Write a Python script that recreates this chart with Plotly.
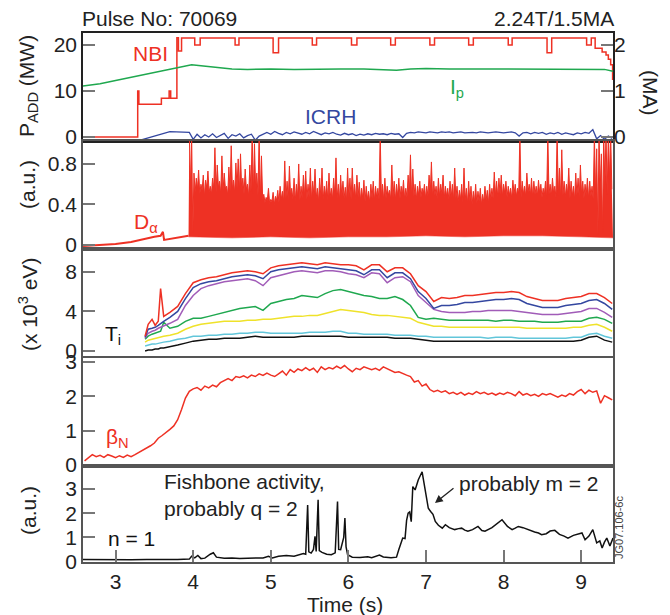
import plotly.graph_objects as go

# ---------------- data ----------------
# Panel 1: NBI power (MW, step signal), ICRH power (MW), plasma current Ip (MA)
NBI_T = [2.58, 3.285, 3.30, 3.59, 3.69, 3.71, 3.79, 3.81, 3.85, 4.02, 4.09, 4.54, 4.59,
         5.03, 5.10, 5.535, 5.59, 6.04, 6.11, 6.545, 6.605, 7.05, 7.11, 7.55, 7.61,
         8.06, 8.11, 8.56, 8.62, 9.07, 9.13, 9.18, 9.27, 9.32, 9.35, 9.38, 9.405]
NBI_MW = [0, 10.0, 7.1, 8.4, 10.0, 8.4, 21.6, 18.7, 21.5, 20.0, 21.5, 20.0, 21.5,
          18.3, 21.5, 20.0, 21.5, 20.0, 21.5, 20.0, 21.5, 20.0, 21.5, 20.0, 21.5,
          20.0, 21.5, 18.3, 21.5, 20.0, 21.5, 19.3, 18.5, 17.8, 16.9, 15.7, 12.4]

IP_T = [2.58, 2.8, 3.0, 3.2, 3.4, 3.6, 3.8, 3.98, 4.1, 4.3, 4.5, 4.7, 5.0, 5.3, 5.6,
        5.9, 6.2, 6.5, 6.62, 6.8, 7.0, 7.3, 7.6, 8.0, 8.4, 8.8, 9.1, 9.3, 9.41]
IP_MA = [1.11, 1.16, 1.23, 1.30, 1.37, 1.44, 1.51, 1.57, 1.55, 1.51, 1.48, 1.47, 1.48,
         1.47, 1.48, 1.48, 1.48, 1.47, 1.45, 1.48, 1.49, 1.48, 1.48, 1.48, 1.48, 1.48,
         1.48, 1.47, 1.43]

ICRH_PRE_T = [2.58, 3.285, 3.70, 3.93]
ICRH_PRE = [-0.85, -0.85, 1.15, 1.15]
ICRH_T0, ICRH_DT = 3.95, 0.05
ICRH_MW = [1.0, -0.5, 0.6, -0.2, 0.5, 0.0, 0.7, -0.1, 0.4, 0.8,
           -0.3, 0.5, 0.2, 0.7, -0.2, 0.3, 0.6, -0.7, 0.2, 0.6,
           1.0, 0.6, 1.2, 0.8, 0.5, 1.0, 0.7, 1.1, 0.9, 0.6,
           1.0, 0.7, 1.2, 0.8, 0.5, 0.9, 0.7, 1.0, 0.6, 0.4,
           0.8, 0.5, 0.7, 0.3, 0.6, 0.4, 0.7, 0.5, 0.8, 0.6,
           0.7, 0.5, 0.8, 0.6, 0.7, -0.1, 0.8, 1.0, 0.9, 1.1,
           1.0, 0.9, 1.1, 1.0, 0.9, 1.1, 1.0, 1.1, 0.9, 1.0,
           1.1, 0.9, 1.0, 1.0, 0.9, 1.1, 1.0, 0.9, 1.0, 1.1,
           1.0, 0.9, 1.0, 1.1, 0.9, 0.2, 0.9, 1.0, 0.7, 1.0,
           0.8, 1.0, 0.6, 0.9, 0.7, 1.0, 0.6, 0.9, 0.7, 0.5,
           0.9, 0.7, 1.0, 0.8, 1.6, -0.4, 0.3, -0.5, 0.2, -0.3]

# Panel 2: D-alpha (a.u.)
DA_PRE_T = [2.58, 2.8, 3.0, 3.2, 3.31, 3.4, 3.5, 3.58, 3.61, 3.625, 3.7, 3.8, 3.9, 3.94]
DA_PRE = [-0.01, 0.0, 0.01, 0.03, 0.05, 0.06, 0.08, 0.09, 0.13, 0.05, 0.06, 0.07, 0.08, 0.09]
DA_T0, DA_DT = 3.95, 0.03
DA_PEAK = [1.1, 1.1, 0.71, 0.66, 0.74, 0.60, 0.69, 0.64, 0.73, 0.58,
           0.66, 0.96, 0.79, 0.63, 0.88, 0.71, 0.58, 0.77, 0.98, 0.64,
           0.81, 0.85, 0.90, 0.66, 0.75, 0.60, 0.79, 1.1, 1.0, 0.71,
           1.1, 0.88, 0.50, 0.47, 0.56, 0.45, 0.52, 0.48, 0.54, 0.58,
           0.53, 0.83, 0.63, 0.78, 0.56, 0.66, 0.60, 0.80, 0.58, 0.69,
           0.73, 0.60, 0.76, 0.63, 0.75, 0.56, 0.66, 0.76, 0.58, 0.63,
           0.71, 0.56, 0.66, 0.86, 0.60, 0.69, 0.63, 0.57, 0.76, 0.66,
           0.76, 0.60, 0.69, 0.62, 0.56, 0.64, 0.58, 0.53, 0.60, 0.63,
           0.58, 0.56, 1.1, 0.60, 0.66, 0.58, 0.54, 0.79, 0.63, 0.60,
           0.66, 0.58, 0.64, 0.56, 0.69, 0.89, 0.75, 0.60, 0.58, 0.63,
           0.56, 0.60, 0.58, 0.69, 0.82, 0.63, 0.58, 0.66, 0.60, 0.69,
           0.58, 0.56, 0.63, 0.60, 0.76, 0.58, 0.54, 0.60, 0.76, 0.56,
           0.63, 0.58, 0.53, 0.60, 0.53, 0.56, 0.50, 0.58, 0.54, 0.60,
           0.56, 0.72, 0.63, 0.66, 0.69, 0.60, 0.63, 0.58, 0.56, 0.64,
           0.60, 0.56, 1.1, 0.63, 0.58, 0.71, 0.60, 0.66, 0.63, 0.58,
           0.64, 0.60, 0.56, 0.63, 1.1, 0.60, 0.66, 0.58, 1.1, 0.76,
           0.94, 0.63, 0.60, 0.76, 0.63, 0.58, 0.71, 0.66, 0.79, 0.63,
           0.60, 0.66, 0.63, 0.58, 1.1, 0.95, 1.1, 0.90, 1.1, 1.1,
           1.1, 1.1]
DA_DIP = [0.56, 0.12, 0.52, 0.55, 0.50, 0.54, 0.48, 0.56, 0.52, 0.50,
          0.55, 0.52, 0.57, 0.50, 0.54, 0.56, 0.49, 0.53, 0.55, 0.51,
          0.56, 0.52, 0.54, 0.50, 0.55, 0.48, 0.53, 0.51, 0.55, 0.49,
          0.44, 0.46, 0.42, 0.44, 0.41, 0.43, 0.40, 0.44, 0.42, 0.45,
          0.43, 0.46, 0.44, 0.48, 0.45, 0.43, 0.47, 0.44, 0.46, 0.48,
          0.45, 0.47, 0.44, 0.49, 0.46, 0.43, 0.47, 0.45, 0.48, 0.44,
          0.47, 0.45, 0.49, 0.46, 0.44, 0.48, 0.46, 0.43, 0.47, 0.45,
          0.48, 0.45, 0.47, 0.44, 0.46, 0.43, 0.45, 0.42, 0.46, 0.44,
          0.47, 0.45, 0.48, 0.44, 0.46, 0.49, 0.45, 0.47, 0.44, 0.48,
          0.46, 0.49, 0.45, 0.47, 0.50, 0.46, 0.48, 0.45, 0.49, 0.47,
          0.50, 0.46, 0.48, 0.51, 0.47, 0.49, 0.45, 0.48, 0.50, 0.46,
          0.48, 0.45, 0.47, 0.44, 0.46, 0.43, 0.45, 0.42, 0.44, 0.41,
          0.43, 0.40, 0.42, 0.41, 0.43, 0.40, 0.42, 0.44, 0.41, 0.45,
          0.46, 0.49, 0.47, 0.50, 0.48, 0.51, 0.47, 0.49, 0.46, 0.50,
          0.48, 0.51, 0.47, 0.50, 0.48, 0.52, 0.49, 0.47, 0.50, 0.48,
          0.51, 0.47, 0.49, 0.46, 0.50, 0.48, 0.51, 0.47, 0.49, 0.46,
          0.49, 0.47, 0.50, 0.46, 0.48, 0.45, 0.49, 0.47, 0.50, 0.46,
          0.49, 0.46, 0.48, 0.45, 0.50, 0.10, 0.55, 0.12, 0.60, 0.50,
          0.65, 0.55]
DA_LOW_T = [3.94, 4.5, 5.0, 5.5, 6.0, 6.5, 7.0, 7.5, 8.0, 8.5, 9.0, 9.41]
DA_LOW = [0.08, 0.07, 0.08, 0.07, 0.08, 0.08, 0.09, 0.08, 0.09, 0.09, 0.08, 0.07]

# Panel 3: ion temperature profiles (x10^3 eV), 7 radii
TI_T = [3.38, 3.42, 3.47, 3.51, 3.55, 3.58, 3.62] + [round(3.7 + 0.1 * i, 2) for i in range(58)]
TI_RED = [1.5, 2.7, 3.2, 2.6, 3.0, 6.3, 3.5,
          3.9, 4.5, 5.8, 6.9, 7.2, 7.4, 7.5, 7.7, 7.9, 8.0,
          8.1, 8.0, 7.8, 8.4, 8.6, 8.7, 8.8, 8.9, 8.8, 8.7,
          8.9, 8.8, 8.7, 8.7, 8.6, 8.2, 8.7, 8.7, 8.0, 8.4,
          8.4, 7.8, 6.6, 6.0, 5.0, 5.4, 5.3, 5.4, 5.6, 5.6,
          5.7, 5.8, 5.9, 5.9, 6.0, 5.9, 5.5, 5.3, 5.1, 5.1,
          5.1, 5.3, 5.4, 5.5, 5.8, 5.8, 5.4, 4.8]
TI_BLUE = [1.4, 2.2, 2.3, 2.4, 2.6, 2.8, 3.0,
           3.4, 4.0, 5.3, 6.4, 6.8, 7.0, 7.1, 7.3, 7.5, 7.6,
           7.7, 7.6, 7.3, 8.0, 8.2, 8.3, 8.4, 8.5, 8.4, 8.3,
           8.5, 8.4, 8.3, 8.2, 8.1, 7.7, 8.2, 8.2, 7.4, 7.9,
           7.9, 7.3, 6.0, 5.3, 4.3, 4.6, 4.6, 4.7, 4.9, 4.9,
           5.0, 5.1, 5.2, 5.2, 5.3, 5.2, 4.8, 4.6, 4.4, 4.4,
           4.4, 4.6, 4.7, 4.8, 5.1, 5.2, 4.8, 4.2]
TI_PURPLE = [1.3, 1.8, 2.0, 2.1, 2.3, 2.4, 2.5,
             2.8, 3.2, 4.6, 5.6, 6.3, 6.6, 6.8, 7.0, 7.1, 7.2,
             7.3, 7.1, 6.6, 7.4, 7.6, 7.8, 8.0, 8.1, 8.0, 7.9,
             8.1, 8.1, 8.0, 7.8, 7.7, 7.4, 7.9, 7.8, 6.9, 7.4,
             7.5, 7.0, 5.6, 4.9, 4.2, 4.0, 3.9, 3.9, 3.9, 4.0,
             4.0, 4.1, 4.1, 4.1, 4.1, 4.0, 3.9, 3.8, 3.7, 3.7,
             3.7, 3.8, 3.9, 4.0, 4.3, 4.3, 3.9, 3.4]
TI_GREEN = [1.2, 1.5, 1.7, 1.8, 1.9, 2.0, 2.9,
            2.3, 2.5, 3.0, 3.3, 3.3, 3.5, 3.7, 3.9, 4.1, 4.3,
            4.4, 4.5, 4.1, 4.8, 5.0, 5.2, 5.3, 5.6, 5.5, 5.4,
            5.8, 6.1, 6.2, 6.0, 5.8, 5.6, 5.5, 5.3, 5.3, 5.5,
            5.2, 4.6, 3.4, 3.2, 3.3, 3.2, 3.1, 3.1, 3.1, 3.1,
            3.1, 3.1, 3.0, 3.1, 3.1, 3.0, 3.0, 3.0, 2.9, 2.9,
            2.9, 3.0, 3.0, 3.0, 3.3, 3.4, 3.2, 2.8]
TI_YELLOW = [0.9, 1.1, 1.2, 1.3, 1.4, 1.4, 1.5,
             1.6, 1.8, 2.2, 2.5, 2.7, 2.8, 2.9, 3.0, 3.0, 3.0,
             3.1, 3.1, 3.2, 3.2, 3.3, 3.4, 3.5, 3.5, 3.6, 3.6,
             3.8, 4.0, 4.2, 4.1, 4.0, 3.9, 3.7, 3.6, 3.6, 3.5,
             3.4, 3.3, 2.9, 2.7, 2.5, 2.5, 2.4, 2.4, 2.4, 2.4,
             2.4, 2.4, 2.4, 2.4, 2.4, 2.4, 2.3, 2.3, 2.3, 2.3,
             2.3, 2.3, 2.4, 2.4, 2.6, 2.7, 2.4, 2.0]
TI_CYAN = [0.5, 0.6, 0.7, 0.7, 0.8, 0.8, 0.9,
           1.0, 1.2, 1.3, 1.5, 1.5, 1.6, 1.6, 1.7, 1.7, 1.8,
           1.8, 1.9, 1.9, 1.8, 1.8, 1.8, 1.8, 1.8, 1.9, 1.9,
           1.9, 2.0, 2.0, 1.8, 1.8, 1.7, 1.7, 1.7, 1.7, 1.6,
           1.6, 1.6, 1.5, 1.5, 1.4, 1.4, 1.4, 1.4, 1.4, 1.4,
           1.4, 1.3, 1.4, 1.4, 1.4, 1.3, 1.3, 1.3, 1.3, 1.3,
           1.3, 1.3, 1.4, 1.4, 1.7, 1.8, 1.5, 1.3]
TI_BLACK = [0.0, 0.1, 0.1, 0.2, 0.2, 0.3, 0.3,
            0.4, 0.6, 0.8, 1.0, 1.1, 1.2, 1.2, 1.3, 1.3, 1.3,
            1.4, 1.5, 1.4, 1.4, 1.4, 1.4, 1.4, 1.5, 1.5, 1.5,
            1.5, 1.5, 1.5, 1.4, 1.4, 1.4, 1.4, 1.4, 1.4, 1.3,
            1.3, 1.3, 1.2, 1.1, 1.0, 1.0, 1.0, 1.0, 1.0, 1.0,
            1.0, 1.0, 1.0, 1.0, 1.0, 1.0, 1.0, 1.0, 1.0, 1.0,
            1.0, 1.0, 1.0, 1.1, 1.4, 1.5, 1.1, 0.9]

# Panel 4: normalised beta
BETA_T0, BETA_DT = 2.60, 0.05
BETA_N = [0.12, 0.22, 0.30, 0.24, 0.28, 0.22, 0.30, 0.26, 0.21, 0.27,
          0.22, 0.29, 0.24, 0.30, 0.36, 0.42, 0.50, 0.56, 0.64, 0.78,
          0.86, 0.94, 1.04, 1.14, 1.32, 1.62, 1.95, 2.15, 2.22, 2.26,
          2.18, 2.30, 2.25, 2.33, 2.28, 2.40, 2.45, 2.52, 2.46, 2.58,
          2.55, 2.60, 2.54, 2.62, 2.58, 2.66, 2.61, 2.68, 2.62, 2.58,
          2.66, 2.74, 2.62, 2.78, 2.70, 2.80, 2.75, 2.84, 2.76, 2.82,
          2.70, 2.86, 2.78, 2.84, 2.80, 2.88, 2.82, 2.90, 2.80, 2.72,
          2.82, 2.78, 2.86, 2.82, 2.78, 2.82, 2.76, 2.86, 2.80, 2.76,
          2.70, 2.72, 2.66, 2.62, 2.58, 2.42, 2.46, 2.30, 2.36, 2.20,
          2.14, 2.18, 2.12, 2.16, 2.08, 2.12, 2.06, 2.12, 2.04, 2.10,
          2.06, 2.14, 2.08, 2.12, 2.06, 2.10, 2.04, 2.10, 2.06, 2.12,
          2.08, 2.02, 2.14, 2.04, 2.08, 2.02, 2.06, 2.00, 2.08, 2.04,
          2.08, 2.02, 1.98, 2.04, 2.00, 2.08, 2.04, 2.14, 2.20, 2.08,
          2.18, 2.12, 2.16, 1.80, 2.02, 1.96, 1.90]

# Panel 5: n = 1 MHD amplitude (a.u.)
N1_T = [2.58, 2.8, 3.0, 3.2, 3.4, 3.6, 3.8, 3.95, 3.98, 4.02, 4.06, 4.10, 4.15, 4.22, 4.26,
        4.30, 4.4, 4.5, 4.6, 4.7, 4.8, 4.9, 4.97, 5.02, 5.1, 5.2, 5.3, 5.38, 5.42, 5.45,
        5.46, 5.475, 5.49, 5.52, 5.55, 5.57, 5.585, 5.60, 5.61, 5.625, 5.66, 5.72, 5.78,
        5.83, 5.85, 5.86, 5.875, 5.9, 5.94, 5.955, 5.97, 5.99, 6.05, 6.15, 6.25, 6.3, 6.4,
        6.45, 6.55, 6.62, 6.65, 6.67, 6.70, 6.73, 6.75, 6.77, 6.79, 6.81, 6.83, 6.86, 6.90,
        6.95, 6.99, 7.03, 7.06, 7.09, 7.12, 7.16, 7.21, 7.25, 7.30, 7.37, 7.42, 7.46, 7.50,
        7.54, 7.60, 7.67, 7.72, 7.76, 7.85, 7.92, 7.98, 8.05, 8.11, 8.15, 8.19, 8.25, 8.31,
        8.40, 8.45, 8.49, 8.55, 8.60, 8.66, 8.72, 8.78, 8.83, 8.90, 8.96, 9.01, 9.05, 9.10,
        9.15, 9.18, 9.20, 9.24, 9.27, 9.30, 9.33, 9.37, 9.41]
N1 = [0.08, 0.07, 0.09, 0.07, 0.08, 0.07, 0.08, 0.10, 0.22, 0.15, 0.25, 0.12, 0.14, 0.30, 0.36,
      0.18, 0.14, 0.15, 0.12, 0.14, 0.13, 0.15, 0.22, 0.15, 0.22, 0.25, 0.22, 0.28, 0.33, 0.30,
      1.2, 2.34, 0.40, 0.35, 0.50, 1.04, 0.42, 1.5, 2.55, 0.45, 0.38, 0.30, 0.28,
      0.36, 1.5, 2.48, 0.50, 0.49, 1.0, 1.8, 0.60, 0.28, 0.18, 0.17, 0.20, 0.16, 0.27,
      0.19, 0.16, 0.18, 0.50, 0.70, 0.97, 0.95, 1.7, 2.0, 2.05, 1.65, 3.1, 2.96, 3.37,
      3.71, 3.03, 2.2, 2.07, 1.95, 1.66, 1.50, 1.38, 1.52, 1.40, 1.32, 1.36, 1.38, 1.30,
      1.25, 1.32, 1.45, 1.28, 1.25, 1.40, 1.58, 1.73, 1.45, 1.32, 1.38, 1.45, 1.40, 1.32,
      1.22, 1.18, 1.11, 1.15, 1.26, 1.29, 1.12, 1.05, 0.97, 1.08, 1.12, 1.18, 0.90, 1.05,
      1.32, 0.95, 0.77, 0.85, 0.56, 0.80, 0.97, 0.64, 0.97]

# ---------------- styling ----------------
RED = '#EE3124'
GREEN = '#1FA84F'
BLUE = '#3447A0'
PURPLE = '#A15CB8'
YELLOW = '#EFE22A'
CYAN = '#62C6DA'
BLACK = '#111111'
FONT = 'Liberation Sans, Arial, Helvetica, sans-serif'
FS = 21
XR = [2.58, 9.41]

fig = go.Figure()

def line(x, y, color, xa, ya, width=1.5, shape='linear', **kw):
    fig.add_trace(go.Scatter(x=x, y=y, mode='lines', xaxis=xa, yaxis=ya,
                             line=dict(color=color, width=width, shape=shape),
                             showlegend=False, hoverinfo='skip', **kw))

# panel 1
icrh_t = ICRH_PRE_T + [round(ICRH_T0 + ICRH_DT * i, 3) for i in range(len(ICRH_MW))]
line(icrh_t, ICRH_PRE + ICRH_MW, BLUE, 'x', 'y', width=1.3)
line(IP_T, IP_MA, GREEN, 'x', 'y6', width=1.5)
line(NBI_T, NBI_MW, RED, 'x', 'y', width=1.5, shape='hv')

# panel 2
line(DA_PRE_T, DA_PRE, RED, 'x2', 'y2', width=2)
line(DA_LOW_T, DA_LOW, RED, 'x2', 'y2', width=0.5)
da_x, da_y = [], []
for i, (p, d) in enumerate(zip(DA_PEAK, DA_DIP)):
    t = DA_T0 + DA_DT * i
    da_x += [t, t + DA_DT / 2]
    da_y += [p, d]
line(da_x, da_y, RED, 'x2', 'y2', width=1.0, fill='tonexty', fillcolor=RED)

# panel 3
for vals, col in [(TI_BLACK, BLACK), (TI_CYAN, CYAN), (TI_YELLOW, YELLOW), (TI_GREEN, GREEN),
                  (TI_PURPLE, PURPLE), (TI_BLUE, BLUE), (TI_RED, RED)]:
    line(TI_T, vals, col, 'x3', 'y3', width=1.5)

# panel 4
beta_t = [round(BETA_T0 + BETA_DT * i, 3) for i in range(len(BETA_N))]
line(beta_t, BETA_N, RED, 'x4', 'y4', width=1.5)

# panel 5
line(N1_T, N1, BLACK, 'x5', 'y5', width=1.5)

# ---------------- axes ----------------
TICKF = dict(family=FONT, size=FS, color='#222')
FRAME = '#555555'

def xax(anchor, bottom=False, color=FRAME):
    d = dict(range=XR, anchor=anchor, domain=[0, 1], showgrid=False, zeroline=False,
             showline=True, mirror=True, linecolor=color, linewidth=1.5)
    if bottom:
        d.update(ticks='inside', ticklen=12, tickwidth=1.5, tickcolor='#777',
                 tickvals=[3, 4, 5, 6, 7, 8, 9], tickfont=TICKF)
    else:
        d.update(ticks='', showticklabels=False)
    return d

def yax(anchor, dom, rng, tv, tt=None, color=FRAME):
    d = dict(anchor=anchor, domain=dom, range=rng, tickvals=tv, showgrid=False,
             zeroline=False, showline=True, mirror=True, linecolor=color, linewidth=1.5,
             ticks='inside', ticklen=12, tickwidth=1.5, tickcolor='#777', tickfont=TICKF)
    if tt:
        d['ticktext'] = tt
    return d

H = 529.0
def dom(top_px, bot_px):
    return [(562 - bot_px) / H, (562 - top_px) / H]

fig.update_layout(
    width=670, height=615, autosize=False,
    margin=dict(l=83, r=57, t=33, b=53),
    paper_bgcolor='white', plot_bgcolor='white',
    font=dict(family=FONT, size=FS, color='#222'),
    showlegend=False,
    xaxis=xax('y', color='#222'),
    xaxis2=xax('y2'),
    xaxis3=xax('y3'),
    xaxis4=xax('y4'),
    xaxis5=xax('y5', bottom=True),
    yaxis=yax('x', dom(33, 141), [-0.87, 22.61], [0, 10, 20], color='#222'),
    yaxis6=dict(overlaying='y', side='right', anchor='x', range=[-0.087, 2.261],
                tickvals=[0, 1, 2], showgrid=False, zeroline=False, showline=False,
                ticks='inside', ticklen=12, tickwidth=1.5, tickcolor='#777', tickfont=TICKF),
    yaxis2=yax('x2', dom(141, 249), [-0.04, 1.027], [0, 0.4, 0.8], ['0', '0.4', '0.8']),
    yaxis3=yax('x3', dom(249, 356), [-0.5, 10.3], [0, 4, 8]),
    yaxis4=yax('x4', dom(358, 466), [-0.03, 3.12], [0, 1, 2, 3]),
    yaxis5=yax('x5', dom(466, 562), [-0.02, 3.95], [0, 1, 2, 3]),
)

# ---------------- text ----------------
def px(xp):
    return (xp - 83) / 530.0

def py(yp):
    return (562 - yp) / H

def note(text, x, y, color='#222', size=FS, xanchor='center', angle=0, align='center'):
    fig.add_annotation(text=text, x=px(x), y=py(y), xref='paper', yref='paper',
                       showarrow=False, xanchor=xanchor, yanchor='middle',
                       textangle=angle, align=align,
                       font=dict(family=FONT, size=size, color=color))

note('Pulse No: 70069', 80, 19, xanchor='left')
note('2.24T/1.5MA', 616, 19, xanchor='right')
note('P<sub>ADD</sub> (MW)', 28, 86, angle=-90)
note('(MA)', 650, 93, angle=90)
note('(a.u.)', 28, 185, angle=-90)
note('(x 10<sup>3</sup> eV)', 28, 305, angle=-90)
note('(a.u.)', 28, 511, angle=-90)
note('Time (s)', 345, 604)
note('NBI', 150, 53, color=RED)
note('I<sub>p</sub>', 457, 88, color=GREEN)
note('ICRH', 330, 117, color=BLUE)
note('D<sub>α</sub>', 146, 223, color=RED)
note('T<sub>i</sub>', 113, 335, color=BLACK)
note('β<sub>N</sub>', 117, 438, color=RED)
note('n = 1', 131, 538, color=BLACK)
note('Fishbone activity,<br>probably q = 2', 162, 495, xanchor='left', align='left')
note('probably m = 2', 457, 483, xanchor='left')
note('JG07.106-6c', 619, 528, color='#444', size=11, angle=-90)

fig.add_annotation(x=7.116, y=2.42, xref='x5', yref='y5', text='', showarrow=True,
                   ax=20, ay=-16, arrowhead=2, arrowsize=1.2, arrowwidth=1.3,
                   arrowcolor='#222')

# the page's default 8px body margin would shift the 670x615 figure; remove it
fig.write_html('out.html', config={'displayModeBar': False},
               post_script="document.body.style.margin='0px';")
